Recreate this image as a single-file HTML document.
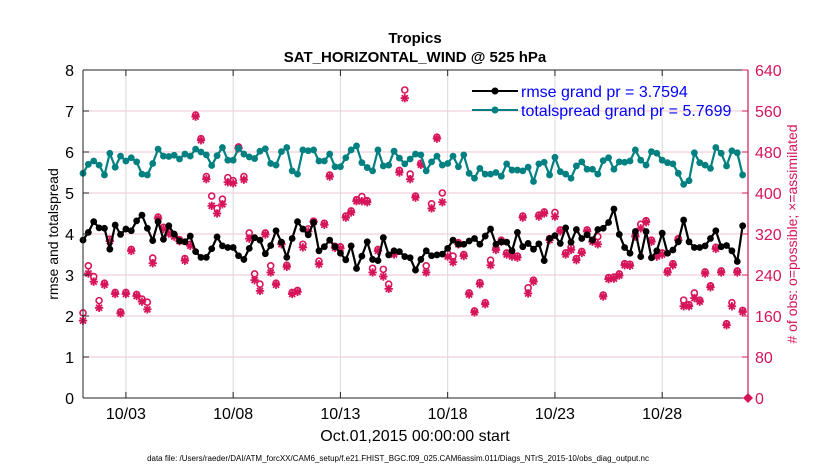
<!DOCTYPE html>
<html><head><meta charset="utf-8"><style>
body{margin:0;background:#fff;}
svg{display:block;font-family:"Liberation Sans",Arial,sans-serif;}
</style></head><body>
<svg id="chart" width="830" height="470" viewBox="0 0 830 470" xmlns="http://www.w3.org/2000/svg">
<rect width="830" height="470" fill="#fff"/>
<g id="grid"></g>
<g id="series"></g>
<g id="axes"></g>
<text x="415" y="43" text-anchor="middle" font-size="15" font-weight="bold">Tropics</text>
<text x="415" y="62" text-anchor="middle" font-size="15" font-weight="bold">SAT_HORIZONTAL_WIND @ 525 hPa</text>
<text transform="translate(58,234) rotate(-90)" text-anchor="middle" font-size="14">rmse and totalspread</text>
<text transform="translate(797,234) rotate(-90)" text-anchor="middle" font-size="14" fill="#d6155b"># of obs: o=possible; ×=assimilated</text>
<text x="415" y="441" text-anchor="middle" font-size="16">Oct.01,2015 00:00:00 start</text>
<text x="398" y="461" text-anchor="middle" font-size="8">data file: /Users/raeder/DAI/ATM_forcXX/CAM6_setup/f.e21.FHIST_BGC.f09_025.CAM6assim.011/Diags_NTrS_2015-10/obs_diag_output.nc</text>
<g>
<line x1="472" y1="91" x2="518" y2="91" stroke="#000" stroke-width="2"/>
<circle cx="495" cy="91" r="3.5" fill="#000"/>
<text x="521" y="97" font-size="16" fill="#0000ff">rmse grand pr = 3.7594</text>
<line x1="472" y1="110" x2="518" y2="110" stroke="#008080" stroke-width="2"/>
<circle cx="495" cy="110" r="3.5" fill="#008080"/>
<text x="521" y="116" font-size="16" fill="#0000ff">totalspread grand pr = 5.7699</text>
</g>
</svg>
<script>
const rmse = [3.85,4.04,4.30,4.15,4.14,3.63,4.22,3.99,4.12,4.08,4.32,4.46,4.14,3.84,4.30,3.87,4.20,4.00,3.83,3.81,3.95,3.57,3.43,3.43,3.64,
3.93,3.71,3.67,3.67,3.47,3.38,3.65,3.91,3.85,3.52,3.72,4.08,3.80,3.43,3.89,4.30,4.12,3.98,4.28,3.59,3.69,3.85,3.69,3.53,3.37,
3.71,3.16,3.46,3.81,3.38,3.35,3.91,3.49,3.59,3.57,3.45,3.42,3.12,3.38,3.59,3.47,3.49,3.51,3.65,3.85,3.75,3.75,3.83,3.89,
3.75,3.95,4.12,3.75,3.81,3.80,3.59,4.04,3.69,3.77,3.63,3.76,3.35,3.89,3.96,3.77,4.15,3.80,4.11,3.89,3.98,3.85,4.11,
4.14,4.28,4.61,3.99,3.67,3.53,4.06,3.45,4.06,3.42,3.59,4.02,3.53,3.61,3.81,4.34,3.81,3.67,3.67,3.71,3.89,4.08,3.69,3.72,3.59,3.33,4.20];
const spread = [5.48,5.70,5.78,5.68,5.44,5.97,5.63,5.90,5.78,5.86,5.76,5.46,5.44,5.72,6.07,5.90,5.89,5.92,5.83,5.95,5.90,6.07,6.00,5.93,5.67,
5.91,6.11,5.80,5.80,6.09,5.95,5.88,5.84,6.02,6.08,5.72,5.68,6.01,6.11,5.54,5.46,6.05,6.03,6.05,5.78,5.78,5.95,5.64,5.64,5.86,
6.05,6.15,5.74,5.62,5.54,6.05,5.66,5.68,6.02,5.85,5.71,5.83,5.95,5.93,5.54,5.76,5.90,5.68,5.72,5.90,5.64,5.93,5.48,5.36,
5.60,5.46,5.46,5.50,5.41,5.71,5.56,5.56,5.54,5.63,5.28,5.71,5.75,5.44,5.87,5.52,5.46,5.36,5.66,5.76,5.58,5.58,5.46,
5.79,5.86,5.58,5.76,5.75,5.78,6.05,5.80,5.68,6.01,5.97,5.80,5.74,5.71,5.48,5.21,5.30,5.98,5.74,5.68,5.60,6.11,5.97,5.66,6.03,5.98,5.44];
const assimilated = [151,243,227,176,221,306,203,165,203,287,199,188,173,263,350,330,321,315,306,268,297,549,503,427,375,
360,378,421,419,487,426,311,230,209,319,245,221,300,256,203,207,294,325,344,261,338,432,293,292,352,
362,384,384,382,245,287,237,213,280,440,585,427,391,455,245,370,506,382,276,265,300,277,202,167,
222,183,259,289,305,280,276,274,352,204,227,354,360,308,354,325,280,289,269,283,325,305,300,
198,232,233,239,259,258,315,331,343,305,276,280,245,259,308,179,179,195,188,243,216,291,245,142,179,245,168,0];
const possible = [166,258,237,190,224,310,206,168,206,290,202,193,187,273,353,333,324,318,309,272,300,552,506,432,394,
370,388,430,424,490,432,322,242,222,322,258,224,303,259,206,210,300,330,345,267,341,435,296,295,355,
365,387,393,385,253,290,251,222,283,444,601,437,394,458,258,379,509,400,282,277,303,280,205,170,
225,186,269,292,308,283,279,277,355,215,230,357,363,311,362,328,283,294,272,286,328,308,315,
201,235,236,242,262,261,318,339,346,308,279,283,248,262,311,191,182,205,191,246,219,294,248,145,186,248,171,0];
const xTickLabels = ["10/03","10/08","10/13","10/18","10/23","10/28"];
const xTickDays = [2,7,12,17,22,27];
const yTicks = [0,1,2,3,4,5,6,7,8];
const y2Ticks = [0,80,160,240,320,400,480,560,640];

const L=83,R=748,T=70,B=398, DAYS=31;
const NS="http://www.w3.org/2000/svg";
const xs = d => L + d*(R-L)/DAYS;
const ys = v => B - v*(B-T)/8;
const ys2 = v => B - v*(B-T)/640;
const tOf = i => i*0.25;
const RED="#d6155b";
function mk(tag, attrs, parent){const e=document.createElementNS(NS,tag);for(const k in attrs)e.setAttribute(k,attrs[k]);parent.appendChild(e);return e;}
const grid=document.getElementById('grid'), ser=document.getElementById('series'), ax=document.getElementById('axes');

yTicks.forEach(v=>{ if(v>0&&v<8){const g=mk('line',{x1:L,x2:R,y1:ys(v),y2:ys(v),stroke:'#f2c6d6','stroke-width':1},grid);

}});
xTickDays.forEach(d=>{const g=mk('line',{x1:xs(d),x2:xs(d),y1:T,y2:B,stroke:'#d9d9d9','stroke-width':1},grid);

});

function star(cx,cy){const g=mk('g',{stroke:RED,'stroke-width':1.8},ser);


const s=4.2;mk('line',{x1:cx-s,x2:cx+s,y1:cy,y2:cy},g);mk('line',{x1:cx,x2:cx,y1:cy-s,y2:cy+s},g);
const d=3;mk('line',{x1:cx-d,x2:cx+d,y1:cy-d,y2:cy+d},g);mk('line',{x1:cx-d,x2:cx+d,y1:cy+d,y2:cy-d},g);}
possible.forEach((v,i)=>{ if(i===possible.length-1) return; const c=mk('circle',{cx:xs(tOf(i)),cy:ys2(v),r:3,fill:'none',stroke:RED,'stroke-width':1.6},ser);

});
assimilated.forEach((v,i)=>{ if(i===assimilated.length-1) return; star(xs(tOf(i)),ys2(v));});
const li=assimilated.length-1, dx=xs(tOf(li)), dy=ys2(assimilated[li]);
const dm=mk('polygon',{points:`${dx},${dy-5} ${dx+5},${dy} ${dx},${dy+5} ${dx-5},${dy}`,fill:RED},ser);



function line(arr,color,name){
  const p=mk('polyline',{points:arr.map((v,i)=>xs(tOf(i))+','+ys(v)).join(' '),fill:'none',stroke:color,'stroke-width':2.2,'stroke-linejoin':'round'},ser);
  
  
  arr.forEach((v,i)=>{const c=mk('circle',{cx:xs(tOf(i)),cy:ys(v),r:3.4,fill:color},ser);
  
  });
}
line(spread,'#008080','totalspread');
line(rmse,'#000000','rmse');

mk('line',{x1:L,x2:R,y1:T,y2:T,stroke:'#222','stroke-width':1},ax);
mk('line',{x1:L,x2:R,y1:B,y2:B,stroke:'#222','stroke-width':1},ax);
mk('line',{x1:L,x2:L,y1:T,y2:B,stroke:'#222','stroke-width':1},ax);
mk('line',{x1:R,x2:R,y1:T,y2:B,stroke:RED,'stroke-width':1.2},ax);
yTicks.forEach(v=>{const y=ys(v);mk('line',{x1:L,x2:L+6,y1:y,y2:y,stroke:'#222'},ax);
const t=mk('text',{x:L-9,y:y+6,'text-anchor':'end','font-size':16},ax);t.textContent=v;

});
y2Ticks.forEach(v=>{const y=ys2(v);mk('line',{x1:R-6,x2:R,y1:y,y2:y,stroke:RED},ax);
const t=mk('text',{x:R+7,y:y+6,'font-size':16,fill:RED},ax);t.textContent=v;

});
xTickDays.forEach((d,k)=>{const x=xs(d);mk('line',{x1:x,x2:x,y1:B-6,y2:B,stroke:'#222'},ax);mk('line',{x1:x,x2:x,y1:T,y2:T+6,stroke:'#222'},ax);
const t=mk('text',{x:x,y:B+21,'text-anchor':'middle','font-size':16},ax);t.textContent=xTickLabels[k];

});
</script>
</body></html>
